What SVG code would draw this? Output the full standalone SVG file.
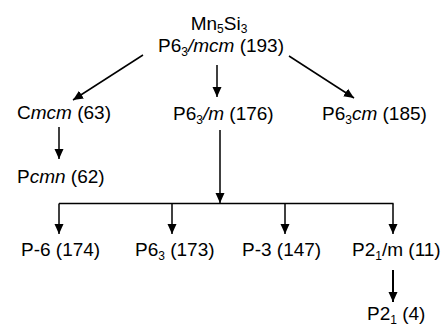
<svg xmlns="http://www.w3.org/2000/svg" width="447" height="327" viewBox="0 0 447 327">
<defs>
<style>
text{font-family:"Liberation Sans",Arial,Helvetica,sans-serif;font-size:19px;fill:#000}
.s{font-size:12px}
.i{font-style:italic}
.c{stroke:#000;stroke-width:1.5;fill:none}
</style>
<marker id="ah" markerUnits="userSpaceOnUse" markerWidth="10" markerHeight="10" refX="10" refY="5" orient="auto" viewBox="0 0 10 10">
<path d="M0,0.5 L10,5 L0,9.5 z" fill="#000"/>
</marker>
</defs>
<rect width="447" height="327" fill="#fff"/>
<g id="connectors">
<line class="c" x1="143" y1="55" x2="73" y2="100" marker-end="url(#ah)"/>
<line class="c" x1="217" y1="65" x2="217" y2="97" marker-end="url(#ah)"/>
<line class="c" x1="289" y1="56" x2="354" y2="98" marker-end="url(#ah)"/>
<line class="c" x1="59" y1="127" x2="59" y2="159" marker-end="url(#ah)"/>
<line class="c" x1="220" y1="130" x2="220" y2="203" marker-end="url(#ah)"/>
<path class="c" d="M59,203.5 H393.5"/>
<line class="c" x1="59" y1="203.5" x2="59" y2="234" marker-end="url(#ah)"/>
<line class="c" x1="172" y1="203.5" x2="172" y2="234" marker-end="url(#ah)"/>
<line class="c" x1="285" y1="203.5" x2="285" y2="234" marker-end="url(#ah)"/>
<line class="c" x1="393" y1="203.5" x2="393" y2="234" marker-end="url(#ah)"/>
<line class="c" style="stroke-width:2" x1="393" y1="270" x2="393" y2="302" marker-end="url(#ah)"/>
</g>
<g id="n-mn5si3">
<text x="219" y="30" text-anchor="middle">Mn<tspan class="s" dy="3">5</tspan><tspan dy="-3">Si</tspan><tspan class="s" dy="3">3</tspan></text>
<text x="221" y="52" text-anchor="middle">P6<tspan class="s" dy="4">3</tspan><tspan class="i" dy="-4">/mcm</tspan> (193)</text>
</g>
<g id="n-cmcm"><text x="17" y="119">C<tspan class="i">mcm</tspan> (63)</text></g>
<g id="n-p63m"><text x="173" y="120">P6<tspan class="s" dy="4">3</tspan><tspan class="i" dy="-4">/m</tspan> (176)</text></g>
<g id="n-p63cm"><text x="322" y="120">P6<tspan class="s" dy="4">3</tspan><tspan class="i" dy="-4">cm</tspan> (185)</text></g>
<g id="n-pcmn"><text x="17" y="183">P<tspan class="i">cmn</tspan> (62)</text></g>
<g id="n-p-6"><text x="21" y="256">P-6 (174)</text></g>
<g id="n-p63"><text x="135" y="256">P6<tspan class="s" dy="4">3</tspan><tspan dy="-4"> (173)</tspan></text></g>
<g id="n-p-3"><text x="242" y="256">P-3 (147)</text></g>
<g id="n-p21m"><text x="352" y="256">P2<tspan class="s" dy="4">1</tspan><tspan dy="-4">/m (11)</tspan></text></g>
<g id="n-p21"><text x="367" y="320">P2<tspan class="s" dy="4">1</tspan><tspan dy="-4"> (4)</tspan></text></g>
</svg>
